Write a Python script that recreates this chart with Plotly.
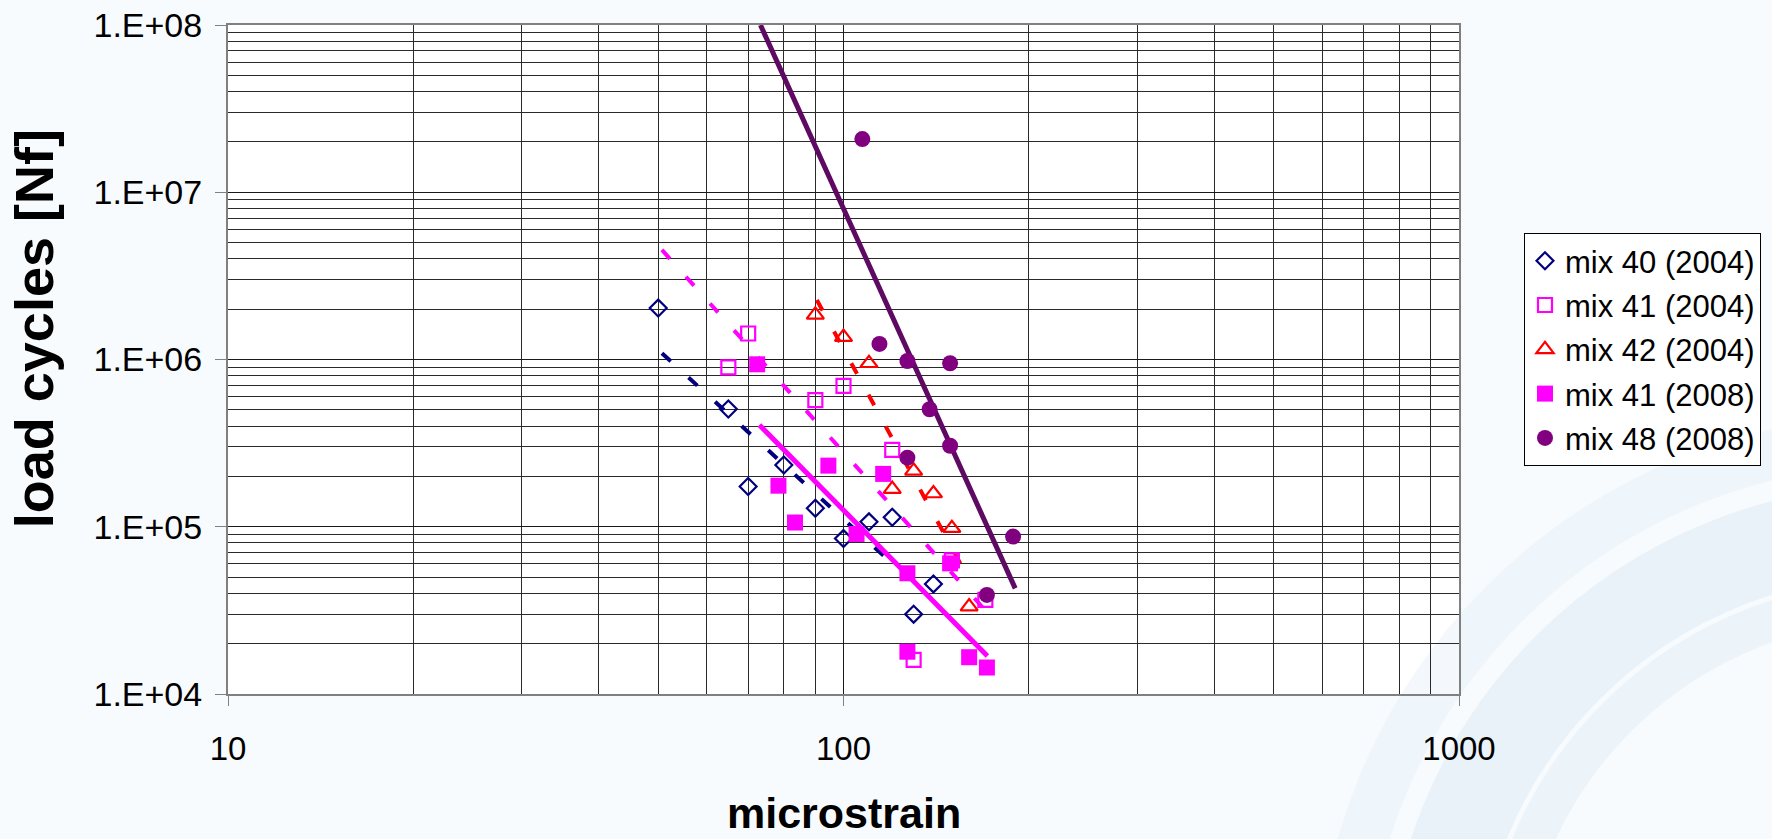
import plotly.graph_objects as go

# ---- data ----
mix40_04_x = [50, 65, 70, 80, 90, 100, 110, 120, 130, 140]
mix40_04_y = [2.03e6, 5.06e5, 1.74e5, 2.34e5, 1.29e5, 8.5e4, 1.07e5, 1.14e5, 3.0e4, 4.55e4]

mix41_04_x = [65, 70, 90, 100, 120, 150, 170, 130]
mix41_04_y = [8.98e5, 1.43e6, 5.72e5, 6.95e5, 2.88e5, 6.3e4, 3.65e4, 1.6e4]

mix42_04_x = [90, 100, 110, 120, 130, 140, 150, 160]
mix42_04_y = [1.85e6, 1.36e6, 9.5e5, 1.68e5, 2.16e5, 1.58e5, 9.8e4, 3.33e4]

mix41_08_x = [72.4, 78.4, 83.4, 94.5, 105, 116, 127, 127, 149, 160, 171]
mix41_08_y = [9.36e5, 1.76e5, 1.06e5, 2.32e5, 9.05e4, 2.07e5, 5.27e4, 1.79e4, 6.04e4, 1.66e4, 1.44e4]

mix48_08_x = [107.3, 114.4, 127, 127, 138, 149, 149, 171, 188.6]
mix48_08_y = [2.08e7, 1.24e6, 9.8e5, 2.59e5, 5.04e5, 9.5e5, 3.05e5, 3.91e4, 8.73e4]

# trend lines (end points)
trend40_x = [50.7, 131.5]
trend40_y = [1.09e6, 4.43e4]
trend41_04_x = [50.7, 168.6]
trend41_04_y = [4.52e6, 3.27e4]
trend42_x = [90.5, 158.5]
trend42_y = [2.27e6, 5.15e4]
trend41_08_x = [73.0, 171.3]
trend41_08_y = [4.06e5, 1.69e4]
trend48_x = [73.3, 190.1]
trend48_y = [1.0e8, 4.28e4]

series_names = ["mix 40 (2004)", "mix 41 (2004)", "mix 42 (2004)", "mix 41 (2008)", "mix 48 (2008)"]
x_tick_vals = [10, 100, 1000]
x_tick_text = ["10", "100", "1000"]
y_tick_vals = [1e4, 1e5, 1e6, 1e7, 1e8]
y_tick_text = ["1.E+04", "1.E+05", "1.E+06", "1.E+07", "1.E+08"]

NAVY = "#000080"
MAG = "#FF00FF"
RED = "#FF0000"
PURP = "#800080"
PURP_LINE = "#5E0A62"
FONT = "Arial, Liberation Sans, sans-serif"

fig = go.Figure()

# trend lines first (drawn beneath markers)
dash = "12px,24px"
fig.add_trace(go.Scatter(x=trend40_x, y=trend40_y, mode="lines",
                         line=dict(color=NAVY, width=4, dash=dash), showlegend=False, hoverinfo="skip"))
fig.add_trace(go.Scatter(x=trend41_04_x, y=trend41_04_y, mode="lines",
                         line=dict(color=MAG, width=4, dash=dash), showlegend=False, hoverinfo="skip"))
fig.add_trace(go.Scatter(x=trend42_x, y=trend42_y, mode="lines",
                         line=dict(color=RED, width=4, dash=dash), showlegend=False, hoverinfo="skip"))
fig.add_trace(go.Scatter(x=trend41_08_x, y=trend41_08_y, mode="lines",
                         line=dict(color=MAG, width=5), showlegend=False, hoverinfo="skip"))
fig.add_trace(go.Scatter(x=trend48_x, y=trend48_y, mode="lines",
                         line=dict(color=PURP_LINE, width=5), showlegend=False, hoverinfo="skip"))

fig.add_trace(go.Scatter(x=mix40_04_x, y=mix40_04_y, mode="markers", name=series_names[0], legendgroup="a",
                         marker=dict(symbol="diamond-open", size=13, color=NAVY, line=dict(width=2.2, color=NAVY))))
fig.add_trace(go.Scatter(x=mix41_04_x, y=mix41_04_y, mode="markers", name=series_names[1], legendgroup="b",
                         marker=dict(symbol="square-open", size=14, color=MAG, line=dict(width=2.2, color=MAG))))
fig.add_trace(go.Scatter(x=mix42_04_x, y=mix42_04_y, mode="markers", name=series_names[2], legendgroup="c",
                         marker=dict(symbol="triangle-up-open", size=15, color=RED, line=dict(width=2.2, color=RED))))
fig.add_trace(go.Scatter(x=mix41_08_x, y=mix41_08_y, mode="markers", name=series_names[3], legendgroup="d",
                         marker=dict(symbol="square", size=16, color=MAG, line=dict(width=0))))
fig.add_trace(go.Scatter(x=mix48_08_x, y=mix48_08_y, mode="markers", name=series_names[4], legendgroup="e",
                         marker=dict(symbol="circle", size=16, color=PURP, line=dict(width=0))))

fig.update_xaxes(
    type="log", range=[1, 3],
    tickvals=x_tick_vals, ticktext=x_tick_text,
    ticks="outside", ticklen=10, tickcolor="#808080", tickwidth=1,
    tickfont=dict(family=FONT, size=33, color="#000"),
    showline=True, linecolor="#808080", linewidth=2, mirror=True,
    showgrid=True, gridcolor="#1a1a1a", gridwidth=1,
    minor=dict(dtick="D1", showgrid=True, gridcolor="#2a2a2a", gridwidth=1, ticks=""),
    zeroline=False, ticklabelstandoff=14,
)
fig.update_yaxes(
    type="log", range=[4, 8],
    tickvals=y_tick_vals, ticktext=y_tick_text,
    ticks="outside", ticklen=11, tickcolor="#808080", tickwidth=1,
    tickfont=dict(family=FONT, size=34, color="#000"),
    showline=True, linecolor="#808080", linewidth=2, mirror=True,
    showgrid=True, gridcolor="#1a1a1a", gridwidth=1,
    minor=dict(dtick="D1", showgrid=True, gridcolor="#2a2a2a", gridwidth=1, ticks=""),
    zeroline=False, ticklabelstandoff=6,
)

fig.add_annotation(text="<b>microstrain</b>", xref="paper", yref="paper",
                   x=0.5, y=-0.178, xanchor="center", yanchor="middle", showarrow=False,
                   font=dict(family=FONT, size=43, color="#000"))
fig.add_annotation(text="<b>load cycles [Nf]</b>", xref="paper", yref="paper",
                   x=-0.158, y=0.546, xanchor="center", yanchor="middle", textangle=-90, showarrow=False,
                   font=dict(family=FONT, size=54, color="#000"))

# soft decorative background swooshes (light blue arcs, as in the slide background)
def px2paper_x(px):
    return (px - 228) / 1231.0

def px2paper_y(py):
    return (694 - py) / 669.0

shapes = []
for cx, cy, r, w, op in [(1900, 1000, 470, 90, 0.22), (1900, 1000, 400, 40, 0.18),
                         (1900, 1000, 560, 50, 0.15)]:
    shapes.append(dict(type="circle", xref="paper", yref="paper", layer="below",
                       x0=px2paper_x(cx - r), x1=px2paper_x(cx + r),
                       y0=px2paper_y(cy + r), y1=px2paper_y(cy - r),
                       line=dict(color="#b9d6ec", width=w), fillcolor="rgba(0,0,0,0)", opacity=op))

fig.update_layout(
    width=1772, height=839,
    margin=dict(l=228, r=313, t=25, b=145, autoexpand=False),
    paper_bgcolor="#f8fbfe", plot_bgcolor="#ffffff",
    shapes=shapes,
    legend=dict(x=1.0528, y=0.689, xanchor="left", yanchor="top",
                bgcolor="#ffffff", bordercolor="#000000", borderwidth=1,
                font=dict(family=FONT, size=31, color="#000"),
                itemsizing="trace", tracegroupgap=1),
    showlegend=True,
)

fig.write_html("out.html")
